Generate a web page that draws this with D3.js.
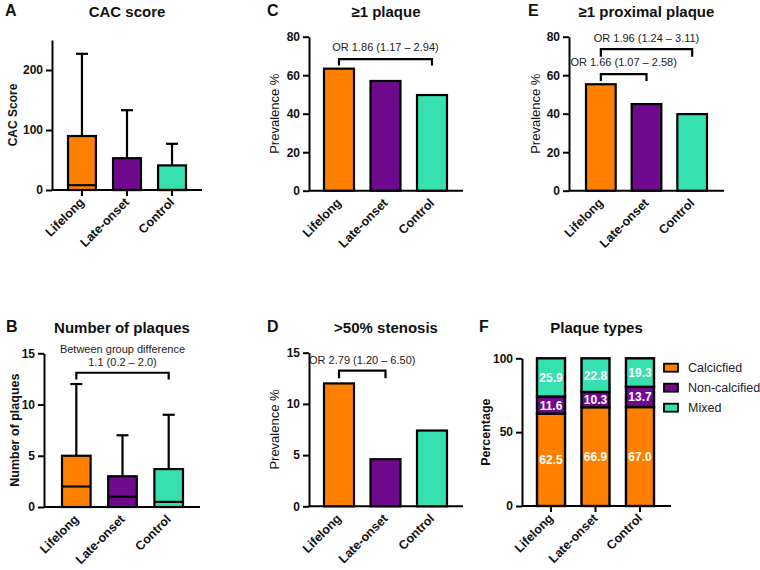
<!DOCTYPE html>
<html><head><meta charset="utf-8">
<script src="https://cdn.jsdelivr.net/npm/d3@7"></script>
<style>body{margin:0;background:#fff}svg{display:block}text{font-family:"Liberation Sans",Arial,sans-serif}</style>
</head><body><svg id="c" width="760" height="570"></svg>
<script>
const groups = ["Lifelong", "Late-onset", "Control"];
const colors = ["#FF8000", "#6F0A8F", "#36E0B0"];
// A: CAC score box plots
const cacQ1 = [0, 0, 0], cacMedian = [8, 0, 0], cacQ3 = [90, 53, 41], cacMax = [227, 133, 77];
const cacTicks = [0, 100, 200];
// B: Number of plaques box plots
const plqQ1 = [0, 0, 0], plqMedian = [2, 1, 0.5], plqQ3 = [5, 3, 3.7], plqMax = [12, 7, 9];
const plqTicks = [0, 5, 10, 15];
// C, D, E prevalence
const anyPlaque = [63.4, 57.0, 49.7];
const stenosis = [12.0, 4.6, 7.4];
const proximal = [55.3, 45.0, 39.8];
const prevTicks = [0, 20, 40, 60, 80];
const stenTicks = [0, 5, 10, 15];
// F plaque types
const typeNames = ["Calcicfied", "Non-calcified", "Mixed"];
const calcified = [62.5, 66.9, 67.0];
const nonCalcified = [11.6, 10.3, 13.7];
const mixed = [25.9, 22.8, 19.3];
const pctTicks = [0, 50, 100];

const svg = d3.select("#c");
const FONT = '"Liberation Sans",Arial,sans-serif';

function panel(o) {
  const g = svg.append("g");
  const y = d3.scaleLinear().domain(o.domain).range([o.y0, o.y1]);
  const x = d3.scaleBand().domain(groups).range(o.bandRange).paddingInner(o.pad).paddingOuter(0);
  const ya = g.append("g").attr("transform", `translate(${o.ax},0)`)
    .call(d3.axisLeft(y).tickValues(o.ticks).tickSize(6).tickPadding(3).tickSizeOuter(0));
  ya.select(".domain").attr("stroke", "#000").attr("stroke-width", 2);
  ya.selectAll(".tick line").attr("stroke", "#000").attr("stroke-width", 2);
  ya.selectAll(".tick text").attr("font-family", FONT).attr("font-size", 12).attr("font-weight", "bold").attr("fill", "#111");
  const xa = g.append("g").attr("transform", `translate(0,${o.y0})`)
    .call(d3.axisBottom(x).tickSize(o.xticks ? 6 : 0).tickSizeOuter(0).tickFormat(""));
  xa.select(".domain").attr("d", `M${o.ax},0H${o.axEnd}`).attr("stroke", "#000").attr("stroke-width", 2);
  xa.selectAll(".tick line").attr("stroke", "#000").attr("stroke-width", 2);
  g.selectAll("text.cat").data(groups).join("text").attr("class", "cat")
    .attr("transform", d => `translate(${x(d) + x.bandwidth() / 2 + 3},${o.y0 + 13}) rotate(-45)`)
    .attr("text-anchor", "end").attr("font-size", 12.5).attr("font-weight", "bold").attr("fill", "#111").text(d => d);
  g.append("text").attr("x", (o.ax + o.axEnd) / 2).attr("y", o.titleY).attr("text-anchor", "middle")
    .attr("font-size", 15).attr("font-weight", "bold").attr("fill", "#111").text(o.title);
  g.append("text").attr("x", o.letterX).attr("y", o.titleY - 1).attr("font-size", 16).attr("font-weight", "bold").attr("fill", "#111").text(o.letter);
  g.append("text").attr("transform", `translate(${o.ylabX},${(o.y0 + o.y1) / 2}) rotate(-90)`)
    .attr("text-anchor", "middle").attr("font-size", o.ylabSize).attr("font-weight", o.ylabBold ? "bold" : "normal")
    .attr("fill", "#111").text(o.ylab);
  return {g, x, y};
}

function bars(p, vals) {
  p.g.selectAll("rect.bar").data(vals).join("rect").attr("class", "bar")
    .attr("x", (d, i) => p.x(groups[i])).attr("width", p.x.bandwidth())
    .attr("y", d => p.y(d)).attr("height", d => p.y(0) - p.y(d))
    .attr("fill", (d, i) => colors[i]).attr("stroke", "#000").attr("stroke-width", 2.2);
}

function boxes(p, q1, med, q3, mx) {
  groups.forEach((gname, i) => {
    const cx = p.x(gname) + p.x.bandwidth() / 2;
    p.g.append("line").attr("x1", cx).attr("x2", cx).attr("y1", p.y(q3[i])).attr("y2", p.y(mx[i])).attr("stroke", "#000").attr("stroke-width", 2.2);
    p.g.append("line").attr("x1", cx - 6).attr("x2", cx + 6).attr("y1", p.y(mx[i])).attr("y2", p.y(mx[i])).attr("stroke", "#000").attr("stroke-width", 2.2);
    p.g.append("rect").attr("x", p.x(gname)).attr("width", p.x.bandwidth())
      .attr("y", p.y(q3[i])).attr("height", p.y(q1[i]) - p.y(q3[i]))
      .attr("fill", colors[i]).attr("stroke", "#000").attr("stroke-width", 2.2);
    p.g.append("line").attr("x1", p.x(gname)).attr("x2", p.x(gname) + p.x.bandwidth())
      .attr("y1", p.y(med[i])).attr("y2", p.y(med[i])).attr("stroke", "#000").attr("stroke-width", 2.2);
  });
}

function bracket(p, a, b, level, leg, lines, textLevels) {
  const x1 = p.x(groups[a]) + p.x.bandwidth() / 2, x2 = p.x(groups[b]) + p.x.bandwidth() / 2;
  p.g.append("path").attr("d", `M${x1},${p.y(leg)}V${p.y(level)}H${x2}V${p.y(leg)}`)
    .attr("fill", "none").attr("stroke", "#000").attr("stroke-width", 2.2);
  lines.forEach((t, k) => {
    p.g.append("text").attr("x", (x1 + x2) / 2).attr("y", p.y(textLevels[k])).attr("text-anchor", "middle")
      .attr("font-size", 11).attr("fill", "#222").text(t);
  });
}

const pA = panel({domain: [0, 250], y0: 190, y1: 40, ax: 52, axEnd: 202, bandRange: [68, 186], pad: 0.38, ticks: cacTicks,
  xticks: true, title: "CAC score", titleY: 17, letter: "A", letterX: 5, ylab: "CAC Score", ylabX: 17, ylabSize: 12, ylabBold: true});
boxes(pA, cacQ1, cacMedian, cacQ3, cacMax);

const pC = panel({domain: [0, 80], y0: 190.7, y1: 36.7, ax: 309, axEnd: 463, bandRange: [324, 447], pad: 0.355, ticks: prevTicks,
  xticks: false, title: "≥1 plaque", titleY: 17, letter: "C", letterX: 267, ylab: "Prevalence %", ylabX: 279, ylabSize: 13, ylabBold: false});
bars(pC, anyPlaque);
bracket(pC, 0, 2, 68.4, 65, ["OR 1.86 (1.17 – 2.94)"], [72.4]);

const pE = panel({domain: [0, 80], y0: 190.7, y1: 36.7, ax: 569, axEnd: 724, bandRange: [586, 707], pad: 0.35, ticks: prevTicks,
  xticks: false, title: "≥1 proximal plaque", titleY: 17, letter: "E", letterX: 528, ylab: "Prevalence %", ylabX: 540, ylabSize: 13, ylabBold: false});
bars(pE, proximal);
bracket(pE, 0, 2, 73.5, 69.6, ["OR 1.96 (1.24 – 3.11)"], [77.5]);
bracket(pE, 0, 1, 60.6, 57, ["OR 1.66 (1.07 – 2.58)"], [64.8]);

const pB = panel({domain: [0, 15], y0: 507, y1: 353.3, ax: 44, axEnd: 200, bandRange: [62, 183], pad: 0.38, ticks: plqTicks,
  xticks: false, title: "Number of plaques", titleY: 333, letter: "B", letterX: 6, ylab: "Number of plaques", ylabX: 19, ylabSize: 12.5, ylabBold: true});
boxes(pB, plqQ1, plqMedian, plqQ3, plqMax);
bracket(pB, 0, 2, 13.1, 12.45, ["Between group difference", "1.1 (0.2 – 2.0)"], [15.05, 13.75]);

const pD = panel({domain: [0, 15], y0: 506.3, y1: 352.7, ax: 309, axEnd: 463, bandRange: [324, 447], pad: 0.355, ticks: stenTicks,
  xticks: false, title: ">50% stenosis", titleY: 333, letter: "D", letterX: 267, ylab: "Prevalence %", ylabX: 279, ylabSize: 13, ylabBold: false});
bars(pD, stenosis);
bracket(pD, 0, 1, 13.24, 12.5, ["OR 2.79 (1.20 – 6.50)"], [13.9]);

const pF = panel({domain: [0, 100], y0: 506, y1: 358.3, ax: 522, axEnd: 671, bandRange: [537, 654], pad: 0.37, ticks: pctTicks,
  xticks: true, title: "Plaque types", titleY: 333, letter: "F", letterX: 479, ylab: "Percentage", ylabX: 490, ylabSize: 12.5, ylabBold: true});
const rows = groups.map((gname, i) => ({group: gname, Calcicfied: calcified[i], "Non-calcified": nonCalcified[i], Mixed: mixed[i]}));
const stack = d3.stack().keys(typeNames)(rows);
stack.forEach((layer, li) => {
  layer.forEach((seg, i) => {
    pF.g.append("rect").attr("x", pF.x(groups[i])).attr("width", pF.x.bandwidth())
      .attr("y", pF.y(seg[1])).attr("height", pF.y(seg[0]) - pF.y(seg[1]))
      .attr("fill", colors[li]).attr("stroke", "#000").attr("stroke-width", 2.4);
    pF.g.append("text").attr("x", pF.x(groups[i]) + pF.x.bandwidth() / 2).attr("y", pF.y((seg[0] + seg[1]) / 2) + 4.5)
      .attr("text-anchor", "middle").attr("font-size", 12).attr("font-weight", "bold").attr("fill", "#fff")
      .text(d3.format(".1f")(seg[1] - seg[0]));
  });
});
const leg = pF.g.append("g");
typeNames.forEach((n, i) => {
  const yy = 367.7 + i * 20;
  leg.append("rect").attr("x", 664).attr("y", yy - 4).attr("width", 14).attr("height", 8)
    .attr("fill", colors[i]).attr("stroke", "#000").attr("stroke-width", 1.8);
  leg.append("text").attr("x", 688).attr("y", yy + 4.5).attr("font-size", 12.5).attr("fill", "#222").text(n);
});
</script></body></html>
